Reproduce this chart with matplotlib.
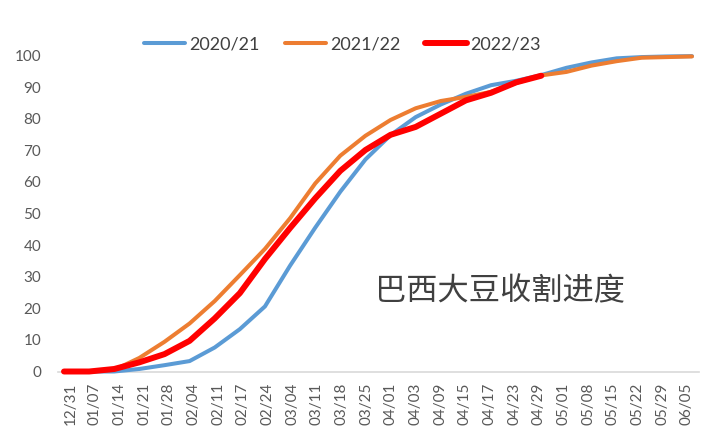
import matplotlib
matplotlib.use("Agg")
import matplotlib.pyplot as plt

plt.rcParams['font.family'] = ['Lato', 'Noto Sans CJK SC', 'DejaVu Sans']

categories = ["12/31", "01/07", "01/14", "01/21", "01/28", "02/04", "02/11", "02/17",
              "02/24", "03/04", "03/11", "03/18", "03/25", "04/01", "04/03", "04/09",
              "04/15", "04/17", "04/23", "04/29", "05/01", "05/08", "05/15", "05/22",
              "05/29", "06/05"]

s2020 = [0, 0, 0, 0.8, 2.0, 3.3, 7.6, 13.4, 20.6, 33.5, 45.5, 56.9, 67.1, 74.8, 80.5,
         84.5, 87.9, 90.6, 92.0, 93.8, 96.1, 97.8, 99.1, 99.5, 99.7, 99.8]
s2021 = [0, 0, 0.5, 4.3, 9.4, 15.2, 22.3, 30.5, 38.8, 48.5, 59.5, 68.3, 74.6, 79.6,
         83.3, 85.6, 86.9, 88.5, 91.3, 93.7, 94.8, 96.8, 98.2, 99.3, 99.5, 99.7]
s2022 = [0, 0, 0.8, 2.9, 5.5, 9.7, 16.8, 24.8, 35.6, 45.4, 54.8, 63.5, 70.1, 74.9,
         77.4, 81.6, 85.8, 88.2, 91.5, 93.6]

series_names = ["2020/21", "2021/22", "2022/23"]
yticks = list(range(0, 101, 10))
title_cn = "巴西大豆收割进度"

W, H = 722, 432
fig = plt.figure(figsize=(W / 100, H / 100), dpi=100)
ax = fig.add_axes([58 / W, 1 - 371.5 / H, 641 / W, 316 / H])

gray = '#595959'
lines = []
for vals, name, col, lw in [(s2020, series_names[0], '#5B9BD5', 2.9),
                             (s2021, series_names[1], '#ED7D31', 2.9),
                             (s2022, series_names[2], '#FF0000', 4.3)]:
    ln, = ax.plot(range(len(vals)), vals, color=col, lw=lw, label=name,
                  solid_capstyle='round', solid_joinstyle='round', clip_on=False, zorder=3)
    lines.append(ln)

ax.set_xlim(-0.239, 25.279)
ax.set_ylim(0, 100)
ax.set_xticks([])
ax.set_yticks(yticks)
ax.set_yticklabels([str(v) for v in yticks], fontsize=11, color=gray)
ax.tick_params(axis='y', length=0, pad=12)
for sp in ['left', 'right', 'top']:
    ax.spines[sp].set_visible(False)
ax.spines['bottom'].set_color('#D9D9D9')
ax.spines['bottom'].set_linewidth(1.2)
ax.spines['bottom'].set_zorder(1)

ax2 = ax.twiny()
ax2.set_xlim(-0.5, len(categories) - 0.5)
ax2.xaxis.set_ticks_position('bottom')
ax2.set_xticks(range(len(categories)))
ax2.set_xticklabels(categories, rotation=90, fontsize=11, color=gray)
ax2.tick_params(axis='x', length=0, pad=8)
for sp in ax2.spines.values():
    sp.set_visible(False)

fig.legend(handles=lines, loc='center', bbox_to_anchor=(342.5 / W, 1 - 44 / H),
           ncol=3, frameon=False, fontsize=13, labelcolor='#404040',
           handlelength=2.3, handletextpad=0.2, columnspacing=1.4)

ax.text(0.69, 0.255, title_cn, transform=ax.transAxes, ha='center', va='center',
        fontsize=22.5, color='#404040', family=['Noto Sans CJK SC'], fontweight='light')

fig.savefig('out.png', dpi=100)
